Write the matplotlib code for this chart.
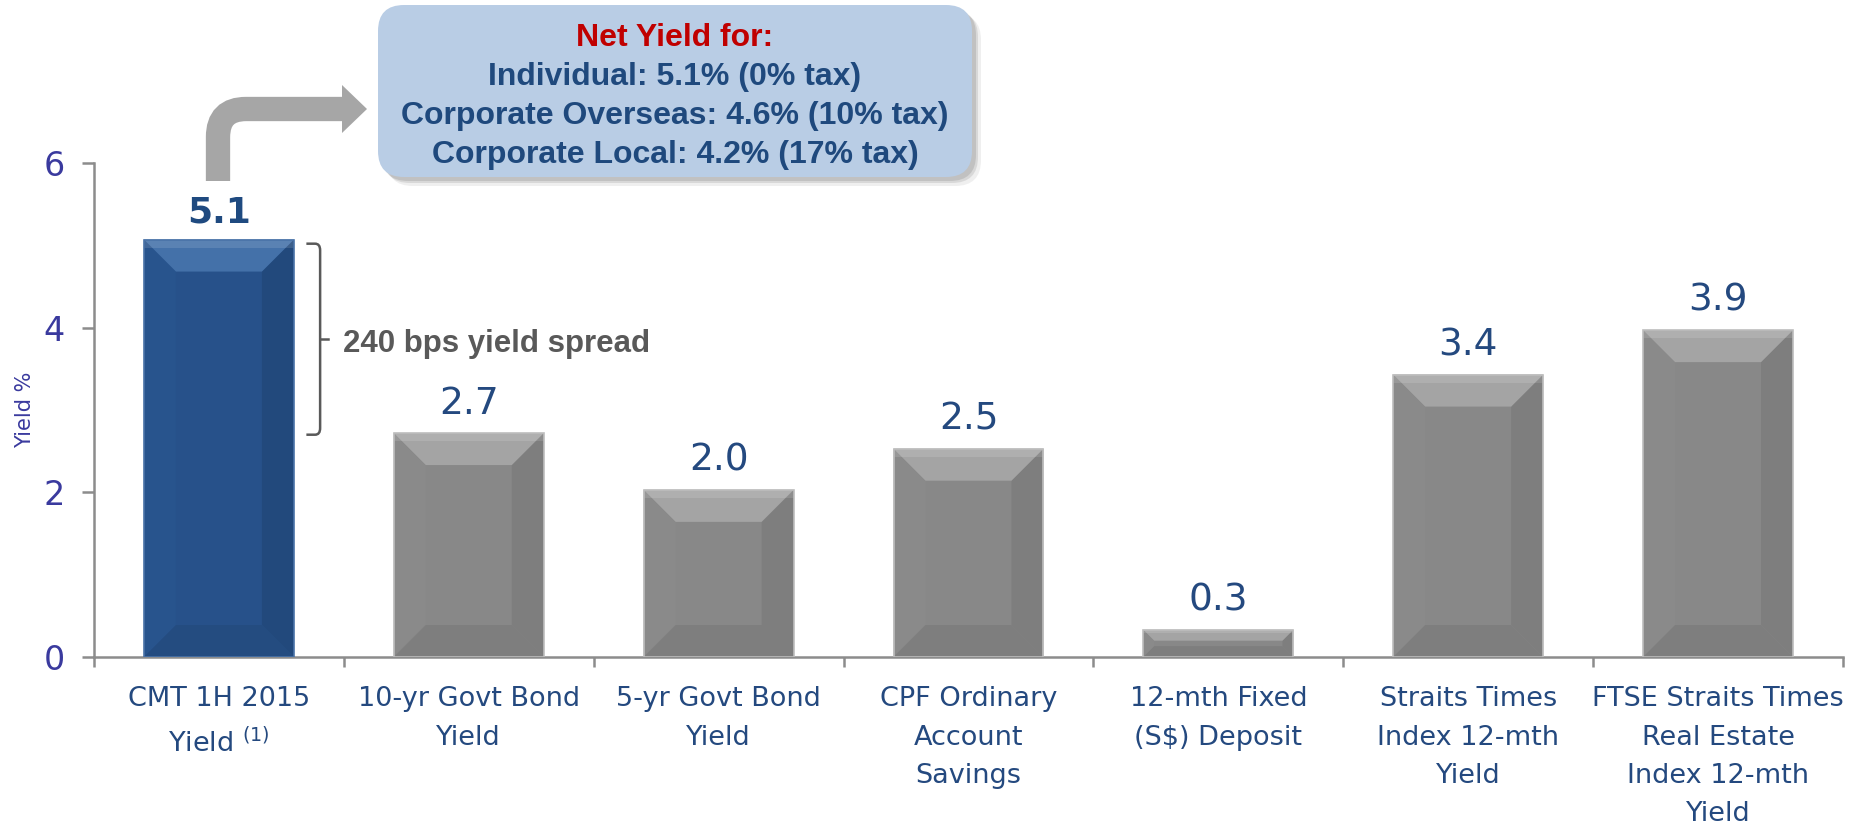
"""CMT 1H 2015 yield compared with other investment yields"""

import matplotlib.pyplot as plt
from matplotlib.patches import FancyBboxPatch, Polygon, PathPatch
from matplotlib.path import Path
from matplotlib.transforms import IdentityTransform

categories = [
    "CMT 1H 2015\nYield $^{(1)}$",
    "10-yr Govt Bond\nYield",
    "5-yr Govt Bond\nYield",
    "CPF Ordinary\nAccount\nSavings",
    "12-mth Fixed\n(S$) Deposit",
    "Straits Times\nIndex 12-mth\nYield",
    "FTSE Straits Times\nReal Estate\nIndex 12-mth\nYield",
]
yields = [5.07, 2.72, 2.03, 2.53, 0.33, 3.43, 3.97]
value_labels = ["5.1", "2.7", "2.0", "2.5", "0.3", "3.4", "3.9"]
yticks = [0, 2, 4, 6]
net_title = "Net Yield for:"
net_lines = [
    "Individual: 5.1% (0% tax)",
    "Corporate Overseas: 4.6% (10% tax)",
    "Corporate Local: 4.2% (17% tax)",
]
spread_text = "240 bps yield spread"

W, H = 1860, 827
TXT_BLUE = "#24497F"
AX_BLUE = "#3A3A9E"
GREY_TXT = "#595959"

BLUE_SHADES = dict(face="#27518A", top="#4471A9", left="#28548D",
                   right="#22497C", bottom="#244C80", edge="#4A73A8")
GREY_SHADES = dict(face="#888888", top="#A4A4A4", left="#8A8A8A",
                   right="#7E7E7E", bottom="#7E7E7E", edge="#BDBDBD")


def add_bevel(ax, bar, shades, depth_px=32):
    """Draw a bevelled look on top of a bar"""
    x0, y0 = bar.get_x(), bar.get_y()
    x1, y1 = x0 + bar.get_width(), y0 + bar.get_height()
    org = ax.transData.transform((0, 0))
    px_x = ax.transData.transform((1, 0))[0] - org[0]
    px_y = ax.transData.transform((0, 1))[1] - org[1]
    d = min(depth_px, 0.4 * bar.get_height() * px_y)
    dx, dy = d / px_x, d / px_y
    faces = {
        "left": [(x0, y0), (x0 + dx, y0 + dy), (x0 + dx, y1 - dy), (x0, y1)],
        "right": [(x1, y0), (x1 - dx, y0 + dy), (x1 - dx, y1 - dy), (x1, y1)],
        "top": [(x0, y1), (x1, y1), (x1 - dx, y1 - dy), (x0 + dx, y1 - dy)],
        "bottom": [(x0, y0), (x1, y0), (x1 - dx, y0 + dy), (x0 + dx, y0 + dy)],
    }
    for key, pts in faces.items():
        ax.add_patch(Polygon(pts, closed=True, facecolor=shades[key],
                             edgecolor="none", zorder=3))
    # thin highlight strip along the top edge
    ax.add_patch(plt.Rectangle((x0, y1 - dy * 0.25), x1 - x0, dy * 0.25,
                               facecolor="white", alpha=0.12, edgecolor="none", zorder=3))
    ax.add_patch(plt.Rectangle((x0, y0), x1 - x0, y1 - y0, fill=False,
                               edgecolor=shades["edge"], lw=1.2, zorder=4))


def px(x, y_top):
    """Pixel position measured from the top-left corner"""
    return (x, H - y_top)


fig = plt.figure(figsize=(W / 100, H / 100), dpi=100)
ax = fig.add_axes([94 / W, 1 - 657 / H, (1843 - 94) / W, (657 - 163) / H])

xs = list(range(len(categories)))
colors = [BLUE_SHADES["face"]] + [GREY_SHADES["face"]] * (len(xs) - 1)
bars = ax.bar(xs, yields, width=0.6, color=colors, zorder=2)
ax.set_xlim(-0.5, len(xs) - 0.5)
ax.set_ylim(0, 6)

for i, bar in enumerate(bars):
    add_bevel(ax, bar, BLUE_SHADES if i == 0 else GREY_SHADES)
    bold = i == 0
    ax.annotate(value_labels[i], (bar.get_x() + bar.get_width() / 2, bar.get_height()),
                xytext=(0, 12 if bold else 14), textcoords="offset points",
                ha="center", va="baseline", fontsize=26 if bold else 27,
                fontweight="bold" if bold else "normal",
                color="#1F4A80" if bold else TXT_BLUE, zorder=5)

# axes styling
for side in ["top", "right"]:
    ax.spines[side].set_visible(False)
for side in ["left", "bottom"]:
    ax.spines[side].set_color("#8C8C8C")
    ax.spines[side].set_linewidth(1.8)
ax.set_yticks(yticks)
ax.tick_params(axis="y", direction="out", length=9, width=1.8, color="#8C8C8C",
               labelsize=24, labelcolor=AX_BLUE, pad=12)
ax.set_xticks([x + 0.5 for x in [-1] + xs])
ax.set_xticklabels([])
ax.tick_params(axis="x", direction="out", length=7, width=1.8, color="#8C8C8C")
# category names drawn as text so that the line spacing can be set
for x, name in zip(xs, categories):
    ax.annotate(name, (x, 0), xycoords=ax.get_xaxis_transform(),
                xytext=(0, -21), textcoords="offset points", ha="center",
                va="top", fontsize=19.5, color=TXT_BLUE, linespacing=1.62)
ax.set_ylabel("Yield %", fontsize=15, color=AX_BLUE)
ax.yaxis.set_label_coords(-0.034, 0.5)

# bracket showing the spread between CMT and the 10-yr bond
b0 = bars[0]
xa = b0.get_x() + b0.get_width() + 0.05
xb = xa + 0.055
xc = xb + 0.03
top = yields[0] - 0.05
bot = yields[1] - 0.02
mid = (top + bot) / 2
r = 0.08
brace = Path(
    [(xa, top), (xb - 0.02, top), (xb, top), (xb, top - r),
     (xb, bot + r), (xb, bot), (xb - 0.02, bot), (xa, bot)],
    [Path.MOVETO, Path.LINETO, Path.CURVE3, Path.CURVE3,
     Path.LINETO, Path.CURVE3, Path.CURVE3, Path.LINETO],
)
ax.add_patch(PathPatch(brace, fill=False, edgecolor=GREY_TXT, lw=1.8, zorder=5))
ax.plot([xb, xc], [mid, mid], color=GREY_TXT, lw=1.8, zorder=5)
ax.text(xc + 0.06, mid - 0.06, spread_text, ha="left", va="center", fontsize=22.5,
        fontweight="bold", color=GREY_TXT, family=["Liberation Sans", "DejaVu Sans"])

# bent arrow pointing to the net yield box
ident = IdentityTransform()
stem_x, bar_y, rad = 218, 109, 28
arrow = Path(
    [px(stem_x, 181), px(stem_x, bar_y + rad), px(stem_x, bar_y),
     px(stem_x + rad, bar_y), px(343, bar_y)],
    [Path.MOVETO, Path.LINETO, Path.CURVE3, Path.CURVE3, Path.LINETO],
)
fig.patches.append(PathPatch(arrow, fill=False, edgecolor="#A6A6A6", lw=17.5,
                             capstyle="butt", transform=ident, figure=fig))
fig.patches.append(Polygon([px(342, 85), px(367, bar_y), px(342, 133)], closed=True,
                           facecolor="#A6A6A6", edgecolor="none",
                           transform=ident, figure=fig))

# net yield call-out box
bx, by, bw, bh = 378, 5, 594, 172
for off, alpha in [(9, 0.12), (6, 0.2), (4, 0.25)]:
    fig.patches.append(FancyBboxPatch(
        (bx + off, H - by - bh - off), bw, bh,
        boxstyle="round,pad=0,rounding_size=26", facecolor="#7F7F7F",
        edgecolor="none", alpha=alpha, transform=ident, figure=fig))
fig.patches.append(FancyBboxPatch(
    (bx, H - by - bh), bw, bh, boxstyle="round,pad=0,rounding_size=26",
    facecolor="#B9CDE5", edgecolor="none", transform=ident, figure=fig))

cx = bx + bw / 2
box_font = ["Liberation Sans", "DejaVu Sans"]
fig.text(*px(cx, 38), net_title, transform=ident, ha="center", va="center",
         fontsize=23, fontweight="bold", color="#C00000", family=box_font)
for k, line in enumerate(net_lines):
    fig.text(*px(cx, 77 + 39 * k), line, transform=ident, ha="center",
             va="center", fontsize=23, fontweight="bold", color="#1F497D",
             family=box_font)

fig.savefig("out.png", dpi=100)
